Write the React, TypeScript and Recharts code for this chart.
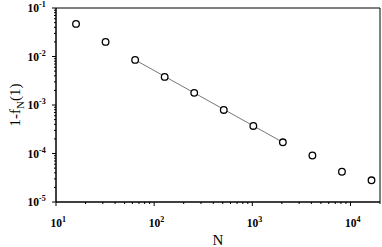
import { ScatterChart, Scatter, XAxis, YAxis, ReferenceArea } from "recharts"

// system size N and measured 1 - f_N(1)
const sizes = [16, 32, 64, 128, 256, 512, 1024, 2048, 4096, 8192, 16384]
const values = [0.047, 0.02, 0.0085, 0.0038, 0.00178, 0.00079, 0.00037, 0.00017, 0.000091, 0.000042, 0.000028]

// power-law fit drawn over the middle range
const fitSizes = [64, 2048]
const fitValues = [0.0085, 0.00017]

const xMajor = [10, 100, 1000, 10000]
const yMajor = [0.00001, 0.0001, 0.001, 0.01, 0.1]
const xExp = ["1", "2", "3", "4"]
const yExp = ["-5", "-4", "-3", "-2", "-1"]

const X_DOMAIN = [10, 20000]
const Y_DOMAIN = [0.00001, 0.1]

const FONT = "'Times New Roman', 'Liberation Serif', serif"

const withMinors = (majors: number[], max: number) => {
  const out: number[] = []
  majors.forEach((m) => {
    for (let k = 1; k < 10; k++) {
      const v = m * k
      if (v <= max * 1.0001) out.push(v)
    }
  })
  return out
}

const xTicks = withMinors(xMajor, X_DOMAIN[1])
const yTicks = withMinors(yMajor, Y_DOMAIN[1])

const points = sizes.map((n, i) => ({ n, v: values[i] }))
const fit = fitSizes.map((n, i) => ({ n, v: fitValues[i] }))

const majorIndex = (list: number[], v: number) =>
  list.findIndex((m) => Math.abs(m - v) / m < 1e-6)

function XTick(props: any) {
  const { x, y, payload } = props
  const idx = majorIndex(xMajor, payload.value)
  if (idx < 0) {
    return <line x1={x} x2={x} y1={y} y2={y + 2} stroke="#000" />
  }
  return (
    <g>
      <line x1={x} x2={x} y1={y} y2={y + 4} stroke="#000" />
      <text x={x - 5.5} y={y + 25} fontFamily={FONT} fontWeight="bold" fontSize={11.5} fill="#000">
        <tspan>10</tspan>
        <tspan dy={-5} fontSize={8}>{xExp[idx]}</tspan>
      </text>
    </g>
  )
}

function YTick(props: any) {
  const { x, y, payload } = props
  const idx = majorIndex(yMajor, payload.value)
  if (idx < 0) {
    return <line x1={x - 2} x2={x} y1={y} y2={y} stroke="#000" />
  }
  return (
    <g>
      <line x1={x - 4} x2={x} y1={y} y2={y} stroke="#000" />
      <text x={x - 17} y={y + 4} textAnchor="end" fontFamily={FONT} fontWeight="bold" fontSize={11.5} fill="#000">
        <tspan>10</tspan>
      </text>
      <text x={x - 17} y={y - 1} textAnchor="start" fontFamily={FONT} fontWeight="bold" fontSize={8} fill="#000">
        {yExp[idx]}
      </text>
    </g>
  )
}

function YTitle(props: any) {
  const { viewBox } = props
  const cy = viewBox.y + viewBox.height / 2
  const cx = 20
  return (
    <text
      x={cx}
      y={cy}
      transform={`rotate(-90 ${cx} ${cy})`}
      textAnchor="middle"
      fontFamily={FONT}
      fontSize={15}
      fill="#000"
    >
      <tspan>1-f</tspan>
      <tspan dy={4} fontSize={11}>N</tspan>
      <tspan dy={-4}>(1)</tspan>
    </text>
  )
}

function XTitle(props: any) {
  const { viewBox } = props
  const cx = viewBox.x + viewBox.width / 2
  return (
    <text x={cx} y={245} textAnchor="middle" fontFamily={FONT} fontSize={15} fill="#000">
      N
    </text>
  )
}

const Ring = (props: any) => {
  const { cx, cy } = props
  return <circle cx={cx} cy={cy} r={3.3} fill="#fff" stroke="#000" strokeWidth={1.3} />
}

export default function App() {
  return (
    <div style={{ position: "fixed", left: 0, top: 0, background: "#fff" }}>
      <ScatterChart width={382} height={247} margin={{ top: 8, right: 2, bottom: 0, left: 0 }}>
        <XAxis
          type="number"
          dataKey="n"
          scale="log"
          domain={X_DOMAIN}
          ticks={xTicks}
          interval={0}
          allowDataOverflow
          height={45}
          tickSize={0}
          tickMargin={0}
          tickLine={false}
          axisLine={{ stroke: "#000" }}
          tick={<XTick />}
          label={{ content: <XTitle /> }}
        />
        <YAxis
          type="number"
          dataKey="v"
          scale="log"
          domain={Y_DOMAIN}
          ticks={yTicks}
          interval={0}
          allowDataOverflow
          width={56}
          tickSize={0}
          tickMargin={0}
          tickLine={false}
          axisLine={{ stroke: "#000" }}
          tick={<YTick />}
          label={{ content: <YTitle /> }}
        />
        <ReferenceArea
          x1={X_DOMAIN[0]}
          x2={X_DOMAIN[1]}
          y1={Y_DOMAIN[0]}
          y2={Y_DOMAIN[1]}
          fill="none"
          stroke="#000"
          strokeWidth={1}
          ifOverflow="visible"
        />
        <Scatter
          data={fit}
          line={{ stroke: "#777", strokeWidth: 1 }}
          shape={() => <g />}
          isAnimationActive={false}
        />
        <Scatter data={points} shape={<Ring />} isAnimationActive={false} />
      </ScatterChart>
    </div>
  )
}
